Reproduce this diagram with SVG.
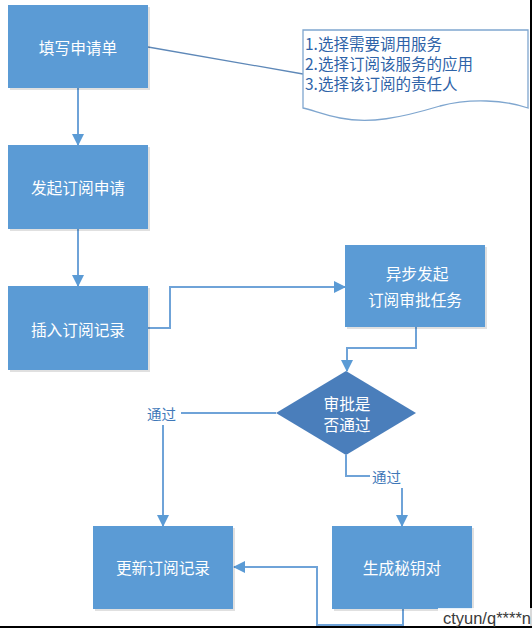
<svg xmlns="http://www.w3.org/2000/svg" width="532" height="628" viewBox="0 0 532 628">
<defs>
<style>
.box{fill:#5B9BD5;}
.shadow{fill:#000;opacity:0.12;}
.bt{fill:#fff;font-family:"Noto Sans CJK SC","Noto Sans",sans-serif;font-size:15.7px;text-anchor:middle;dominant-baseline:central;}
.lbl{fill:#3F78B8;font-family:"Noto Sans CJK SC","Noto Sans",sans-serif;font-size:14.5px;dominant-baseline:central;}
.note{fill:#2E63A8;font-family:"Noto Sans CJK SC","Noto Sans",sans-serif;font-size:15.5px;dominant-baseline:central;}
.con{fill:none;stroke:#6FA3D8;stroke-width:2;}
</style>
<marker id="ah" markerWidth="12" markerHeight="12" viewBox="0 0 12 12" refX="11" refY="6" orient="auto" markerUnits="userSpaceOnUse">
<path d="M0,0 L12,6 L0,12 Z" fill="#5B9BD5"/>
</marker>
</defs>
<rect width="532" height="628" fill="#fff"/>

<g id="connectors">
<line x1="148" y1="47" x2="303" y2="74" stroke="#5E88B8" stroke-width="1.3"/>
<line class="con" x1="78" y1="88" x2="78" y2="145" marker-end="url(#ah)"/>
<line class="con" x1="78" y1="229" x2="78" y2="286" marker-end="url(#ah)"/>
<polyline class="con" points="148,328 170,328 170,287 345,287" marker-end="url(#ah)"/>
<polyline class="con" points="416,327 416,348 347,348 347,371" marker-end="url(#ah)"/>
<polyline class="con" points="276,413 181,413"/>
<line class="con" x1="163" y1="425" x2="163" y2="526" marker-end="url(#ah)"/>
<polyline class="con" points="346,455 346,476 370,476"/>
<line class="con" x1="402" y1="488" x2="402" y2="526" marker-end="url(#ah)"/>
<polyline class="con" points="403,609 403,625 317,625 317,567 234,567" marker-end="url(#ah)"/>
</g>

<g id="n1">
<rect class="shadow" x="10" y="7" width="140" height="83"/>
<rect class="box" x="8" y="5" width="140" height="83"/>
<text class="bt" x="78" y="47">填写申请单</text>
</g>
<g id="note">
<path d="M303,30 L528,30 L528,108 C505,100 470,98 440,106 C400,118 370,124 340,118 C325,115 312,110 303,108 Z" fill="#fff" stroke="#7FA6CF" stroke-width="1.3"/>
<text class="note" x="305" y="43">1.选择需要调用服务</text>
<text class="note" x="305" y="63">2.选择订阅该服务的应用</text>
<text class="note" x="305" y="83">3.选择该订阅的责任人</text>
</g>
<g id="n2">
<rect class="shadow" x="10" y="147" width="140" height="84"/>
<rect class="box" x="8" y="145" width="140" height="84"/>
<text class="bt" x="78" y="187">发起订阅申请</text>
</g>
<g id="n3">
<rect class="shadow" x="10" y="288" width="140" height="84"/>
<rect class="box" x="8" y="286" width="140" height="84"/>
<text class="bt" x="78" y="329">插入订阅记录</text>
</g>
<g id="n4">
<rect class="shadow" x="347" y="247" width="140" height="82"/>
<rect class="box" x="345" y="245" width="140" height="82"/>
<text class="bt" x="417" y="273">异步发起</text>
<text class="bt" x="415" y="299">订阅审批任务</text>
</g>
<g id="n5">
<path d="M346,371 L416,413 L346,455 L276,413 Z" fill="#4A7EBB"/>
<text class="bt" x="347" y="403">审批是</text>
<text class="bt" x="347" y="424">否通过</text>
</g>
<text class="lbl" x="147" y="413">通过</text>
<text class="lbl" x="372" y="476">通过</text>
<g id="n6">
<rect class="shadow" x="95" y="528" width="140" height="83"/>
<rect class="box" x="93" y="526" width="140" height="83"/>
<text class="bt" x="163" y="567">更新订阅记录</text>
</g>
<g id="n7">
<rect class="shadow" x="334" y="528" width="140" height="83"/>
<rect class="box" x="332" y="526" width="140" height="83"/>
<text class="bt" x="402" y="567">生成秘钥对</text>
</g>

<line x1="531" y1="0" x2="531" y2="628" stroke="#000" stroke-width="2"/>
<line x1="0" y1="627" x2="532" y2="627" stroke="#000" stroke-width="2"/>
<rect x="438" y="608" width="94" height="18" fill="#fff" opacity="0.85"/>
<text x="531" y="618" font-family="Liberation Sans, sans-serif" font-size="16.5" fill="#3a3a3a" text-anchor="end" dominant-baseline="central">ctyun/q****n</text>
</svg>
